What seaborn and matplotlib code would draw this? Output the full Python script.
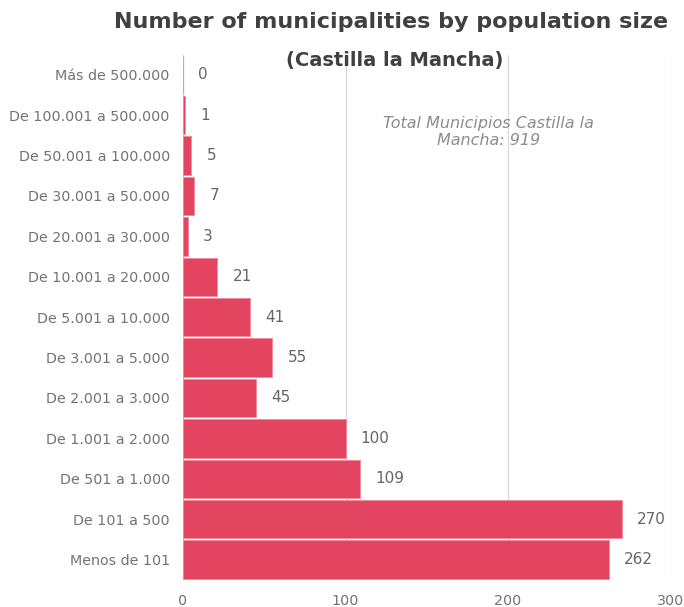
import pandas as pd
import matplotlib.pyplot as plt
import seaborn as sns

# chart data
categories = ['Más de 500.000', 'De 100.001 a 500.000', 'De 50.001 a 100.000',
              'De 30.001 a 50.000', 'De 20.001 a 30.000', 'De 10.001 a 20.000',
              'De 5.001 a 10.000', 'De 3.001 a 5.000', 'De 2.001 a 3.000',
              'De 1.001 a 2.000', 'De 501 a 1.000', 'De 101 a 500', 'Menos de 101']
municipios = [0, 1, 5, 7, 3, 21, 41, 55, 45, 100, 109, 270, 262]
x_ticks = [0, 100, 200, 300]

df = pd.DataFrame({'rango': categories, 'n': municipios})

sns.set_theme(style="white")
plt.rcParams['font.family'] = ['DejaVu Sans']

fig = plt.figure(figsize=(6.84, 6.07), dpi=100)
ax = fig.add_axes([0.2675, 0.045, 0.713, 0.865])

sns.barplot(data=df, y='rango', x='n', color='#E34560', width=0.95,
            saturation=1, edgecolor='#F08A9A', linewidth=0.6, ax=ax, zorder=3)

ax.set_xlim(0, 300)
ax.set_xticks(x_ticks)
ax.set_xlabel('')
ax.set_ylabel('')
ax.grid(axis='x', color='#D9D9D9', linewidth=0.9, zorder=0)
for s in ax.spines.values():
    s.set_visible(False)
ax.axvline(0, color='#D9D9D9', linewidth=0.9, zorder=1)
ax.tick_params(axis='both', length=0, colors='#737373', labelsize=10.3)
ax.tick_params(axis='y', pad=9.5)
ax.tick_params(axis='x', pad=10)

for container in ax.containers:
    ax.bar_label(container, fmt='%d', padding=11, fontsize=11, color='#666666')

fig.text(0.571, 0.963, 'Number of municipalities by population size',
         ha='center', va='center', fontsize=16, weight='bold', color='#404040')
fig.text(0.577, 0.9, '(Castilla la Mancha)', ha='center', va='center',
         fontsize=14, weight='bold', color='#404040')
fig.text(0.714, 0.783, 'Total Municipios Castilla la\nMancha: 919', ha='center',
         va='center', fontsize=11.5, style='italic', color='#8C8C8C',
         linespacing=1.15)

plt.savefig('out.png', dpi=100)
